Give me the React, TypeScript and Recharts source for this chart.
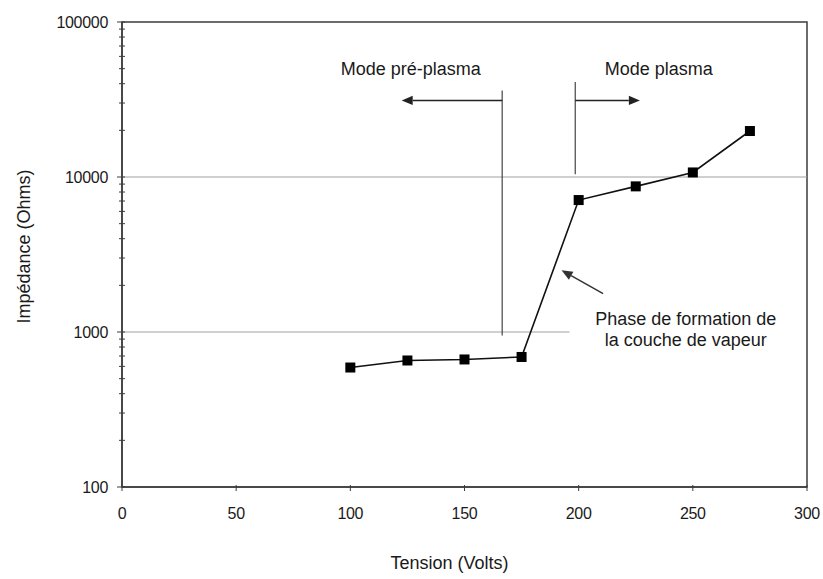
import React from 'react';
import {
  LineChart,
  Line,
  XAxis,
  YAxis,
  ReferenceLine,
  ReferenceArea,
  ReferenceDot,
} from 'recharts';

// Measured impedance versus applied voltage
const voltages = [100, 125, 150, 175, 200, 225, 250, 275];
const impedances = [590, 655, 665, 690, 7100, 8700, 10700, 19800];

const xTicks = [0, 50, 100, 150, 200, 250, 300];
const yMajorTicks = [100, 1000, 10000, 100000];
const minorMantissas = [2, 3, 4, 5, 6, 7, 8, 9];

// Regime boundaries (voltage, lower / upper impedance of the marker line)
const dividerVoltages = [166.5, 198.5];
const dividerLow = [950, 10400];
const dividerHigh = [36200, 41000];

// Regime arrows: start voltage -> tip voltage, at a given impedance level
const arrowStart = [166.5, 198.5];
const arrowTip = [122.5, 226.8];
const arrowLevel = 31200;

// Text annotations
const regimeLabels = ['Mode pré-plasma', 'Mode plasma'];
const regimeLabelX = [126.5, 235.1];
const regimeLabelY = 50200;

const phaseLines = ['Phase de formation de', 'la couche de vapeur'];
const phaseLineX = 246.9;
const phaseLineY = [1225, 893];
const phaseArrowTail = { x: 210.7, y: 1770 };
const phaseArrowTip = { x: 192.5, y: 2500 };

const data = voltages.map((v, i) => ({ v, z: impedances[i] }));

const yTicks: number[] = [];
yMajorTicks.forEach((d, i) => {
  yTicks.push(d);
  if (i < yMajorTicks.length - 1) minorMantissas.forEach((m) => yTicks.push(d * m));
});

const FONT = '"Liberation Sans", Arial, Helvetica, sans-serif';
const AXIS = '#3c3c3c';
const INK = '#1a1a1a';

const YTick = (props: any) => {
  const { x, y, payload } = props;
  const major = yMajorTicks.includes(payload.value);
  return (
    <g>
      <line x1={major ? x - 5 : x - 3} x2={x + 3} y1={y} y2={y} stroke={AXIS} strokeWidth={1} />
      {major && (
        <text
          x={x - 14}
          y={y}
          dy="0.36em"
          textAnchor="end"
          fontSize={16}
          fontFamily={FONT}
          fill={INK}
          style={{ letterSpacing: '-0.3px' }}
        >
          {payload.value}
        </text>
      )}
    </g>
  );
};

const XTick = (props: any) => {
  const { x, y, payload } = props;
  return (
    <g>
      <line x1={x} x2={x} y1={y - 2} y2={y + 4} stroke={AXIS} strokeWidth={1} />
      <text
        x={x}
        y={y + 26}
        dy="0.36em"
        textAnchor="middle"
        fontSize={16}
        fontFamily={FONT}
        fill={INK}
        style={{ letterSpacing: '-0.3px' }}
      >
        {payload.value}
      </text>
    </g>
  );
};

const SquareDot = (props: any) => {
  const { cx, cy, index } = props;
  return <rect key={`pt-${index}`} x={cx - 5} y={cy - 5} width={10} height={10} fill="#000" />;
};

const arrowShape = (color: string, width: number, head: number) => (p: any) => {
  const { x1, y1, x2, y2 } = p;
  const ang = Math.atan2(y2 - y1, x2 - x1);
  const bx = x2 - head * Math.cos(ang);
  const by = y2 - head * Math.sin(ang);
  const hw = head * 0.42;
  const nx = -Math.sin(ang) * hw;
  const ny = Math.cos(ang) * hw;
  return (
    <g>
      <line x1={x1} y1={y1} x2={bx} y2={by} stroke={color} strokeWidth={width} />
      <polygon points={`${x2},${y2} ${bx + nx},${by + ny} ${bx - nx},${by - ny}`} fill={color} />
    </g>
  );
};

const textShape = (text: string, size: number) => (p: any) => (
  <text
    x={p.cx}
    y={p.cy}
    dy="0.36em"
    textAnchor="middle"
    fontSize={size}
    fontFamily={FONT}
    fill={INK}
  >
    {text}
  </text>
);

export default function App() {
  return (
    <div style={{ position: 'absolute', left: 0, top: 0, background: '#fff', fontFamily: FONT }}>
      <LineChart
        width={823}
        height={579}
        data={data}
        margin={{ top: 22, right: 16, bottom: 0, left: 0 }}
      >
        <XAxis
          dataKey="v"
          type="number"
          domain={[0, 300]}
          ticks={xTicks}
          tickSize={0}
          tickMargin={0}
          tick={<XTick />}
          axisLine={{ stroke: AXIS, strokeWidth: 1.5 }}
          height={92}
          label={{
            content: (lp: any) => {
              const vb = lp.viewBox;
              return (
                <text
                  x={vb.x + vb.width / 2 - 15}
                  y={563}
                  dy="0.36em"
                  textAnchor="middle"
                  fontSize={18}
                  fontFamily={FONT}
                  fill={INK}
                >
                  Tension (Volts)
                </text>
              );
            },
          }}
        />
        <YAxis
          dataKey="z"
          scale="log"
          domain={[100, 100000]}
          ticks={yTicks}
          interval={0}
          allowDataOverflow
          tickSize={0}
          tickMargin={0}
          tick={<YTick />}
          axisLine={{ stroke: AXIS, strokeWidth: 1.5 }}
          width={122}
          label={{
            content: (lp: any) => {
              const vb = lp.viewBox;
              const cy = vb.y + vb.height / 2 - 8;
              return (
                <text
                  x={24}
                  y={cy}
                  transform={`rotate(-90, 24, ${cy})`}
                  dy="0.36em"
                  textAnchor="middle"
                  fontSize={18}
                  fontFamily={FONT}
                  fill={INK}
                >
                  Impédance (Ohms)
                </text>
              );
            },
          }}
        />

        {/* plot frame */}
        <ReferenceArea
          x1={0}
          x2={300}
          y1={100}
          y2={100000}
          fill="none"
          fillOpacity={0}
          stroke={AXIS}
          strokeWidth={1.5}
        />

        {/* decade gridlines */}
        <ReferenceLine y={10000} stroke="#a0a0a0" strokeWidth={1} />
        <ReferenceLine
          segment={[
            { x: 0, y: 1000 },
            { x: 196, y: 1000 },
          ]}
          stroke="#a0a0a0"
          strokeWidth={1}
        />

        {/* regime boundaries */}
        {dividerVoltages.map((v, i) => (
          <ReferenceLine
            key={`div-${i}`}
            segment={[
              { x: v, y: dividerLow[i] },
              { x: v, y: dividerHigh[i] },
            ]}
            stroke="#444"
            strokeWidth={1.2}
          />
        ))}
        {arrowStart.map((v, i) => (
          <ReferenceLine
            key={`arr-${i}`}
            segment={[
              { x: v, y: arrowLevel },
              { x: arrowTip[i], y: arrowLevel },
            ]}
            shape={arrowShape('#222', 1.5, 11)}
          />
        ))}
        <ReferenceLine
          segment={[phaseArrowTail, phaseArrowTip]}
          shape={arrowShape('#333', 1.5, 11)}
        />

        {regimeLabels.map((t, i) => (
          <ReferenceDot
            key={`lbl-${i}`}
            x={regimeLabelX[i]}
            y={regimeLabelY}
            r={0}
            shape={textShape(t, 18)}
          />
        ))}
        {phaseLines.map((t, i) => (
          <ReferenceDot
            key={`ph-${i}`}
            x={phaseLineX}
            y={phaseLineY[i]}
            r={0}
            shape={textShape(t, 18)}
          />
        ))}

        <Line
          dataKey="z"
          stroke="#111"
          strokeWidth={1.6}
          dot={SquareDot}
          activeDot={false}
          isAnimationActive={false}
        />
      </LineChart>
    </div>
  );
}
